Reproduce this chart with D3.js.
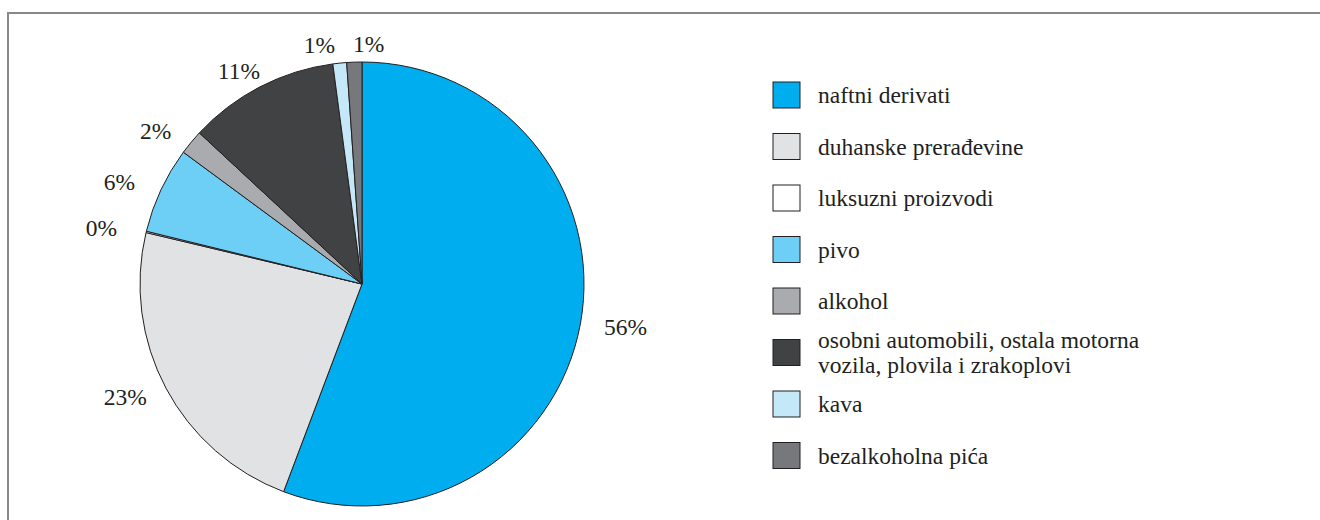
<!DOCTYPE html>
<html>
<head>
<meta charset="utf-8">
<script src="https://cdn.jsdelivr.net/npm/d3@7"></script>
<style>
  body { margin: 0; background: #fff; }
</style>
</head>
<body>
<div id="chart"></div>
<script>
// data (percent shares, clockwise from 12 o'clock)
var categories = [
  "naftni derivati",
  "duhanske prerađevine",
  "luksuzni proizvodi",
  "pivo",
  "alkohol",
  "osobni automobili, ostala motorna\nvozila, plovila i zrakoplovi",
  "kava",
  "bezalkoholna pića"
];
var shares = [55.8, 23.0, 0.1, 6.3, 1.8, 11.0, 1.0, 1.1];
var colors = ["#00adef", "#e1e2e4", "#ffffff", "#6dcff6", "#a9abae", "#414244", "#c5e8f8", "#77787b"];

var width = 1320, height = 520;
var cx = 362, cy = 284, radius = 222;
var font = "Liberation Serif";

var svg = d3.select("#chart")
  .append("svg")
    .attr("width", width)
    .attr("height", height);

// frame (only top and left edges show)
svg.append("line")
  .attr("x1", 8).attr("x2", width).attr("y1", 13).attr("y2", 13)
  .style("stroke", "#888").style("stroke-width", 2);
svg.append("line")
  .attr("x1", 8).attr("x2", 8).attr("y1", 12).attr("y2", height)
  .style("stroke", "#888").style("stroke-width", 2);

var pie = d3.pie().sort(null).value(function(d) { return d; });
var arcs = pie(shares);
var arc = d3.arc().innerRadius(0).outerRadius(radius);

var g = svg.append("g")
  .attr("transform", "translate(" + cx + "," + cy + ")");

g.selectAll("path")
  .data(arcs)
  .enter()
  .append("path")
    .attr("d", arc)
    .style("fill", function(d, i) { return colors[i]; })
    .style("stroke", "#231f20")
    .style("stroke-width", 1)
    .style("stroke-linejoin", "round");

// percent labels on a slightly flattened ring outside the rim
var labelRx = radius + 46, labelRy = radius + 18;
var boxH = 18;

var pct = g.selectAll(".pct")
  .data(arcs)
  .enter()
  .append("text")
    .attr("class", "pct")
    .attr("font-family", font)
    .attr("font-size", 23.5)
    .attr("text-anchor", "middle")
    .attr("fill", "#231f20")
    .text(function(d, i) { return Math.round(shares[i]) + "%"; });

var labels = [];
pct.each(function(d) {
  var a = (d.startAngle + d.endAngle) / 2;
  labels.push({
    node: this,
    w: this.getComputedTextLength(),
    x: labelRx * Math.sin(a),
    y: -labelRy * Math.cos(a)
  });
});

// push overlapping labels apart sideways
for (var it = 0; it < 30; it++) {
  for (var i = 0; i < labels.length; i++) {
    for (var j = i + 1; j < labels.length; j++) {
      var a1 = labels[i], b1 = labels[j];
      var ox = (a1.w + b1.w) / 2 + 18 - Math.abs(a1.x - b1.x);
      var oy = boxH + 2 - Math.abs(a1.y - b1.y);
      if (ox > 0 && oy > 0) {
        var dir = a1.x < b1.x ? -1 : 1;
        a1.x += dir * ox / 2; b1.x -= dir * ox / 2;
      }
    }
  }
}

labels.forEach(function(l) {
  d3.select(l.node)
    .attr("x", l.x)
    .attr("y", l.y)
    .attr("dy", "0.35em");
});

// legend
var legend = svg.append("g")
  .attr("transform", "translate(773,95)");

var rowH = 51.5;

var rows = legend.selectAll(".row")
  .data(categories)
  .enter()
  .append("g")
    .attr("class", "row")
    .attr("transform", function(d, i) { return "translate(0," + (i * rowH) + ")"; });

rows.append("rect")
  .attr("x", 0).attr("y", -13)
  .attr("width", 27).attr("height", 26)
  .style("fill", function(d, i) { return colors[i]; })
  .style("stroke", "#231f20")
  .style("stroke-width", 1);

rows.each(function(d) {
  var lines = d.split("\n");
  var t = d3.select(this).append("text")
    .attr("x", 45)
    .attr("font-family", font)
    .attr("font-size", 23.5)
    .attr("fill", "#231f20");
  lines.forEach(function(l, k) {
    t.append("tspan")
      .attr("x", 45)
      .attr("y", (k - (lines.length - 1) / 2) * 25)
      .attr("dy", "0.35em")
      .text(l);
  });
});
</script>
</body>
</html>
